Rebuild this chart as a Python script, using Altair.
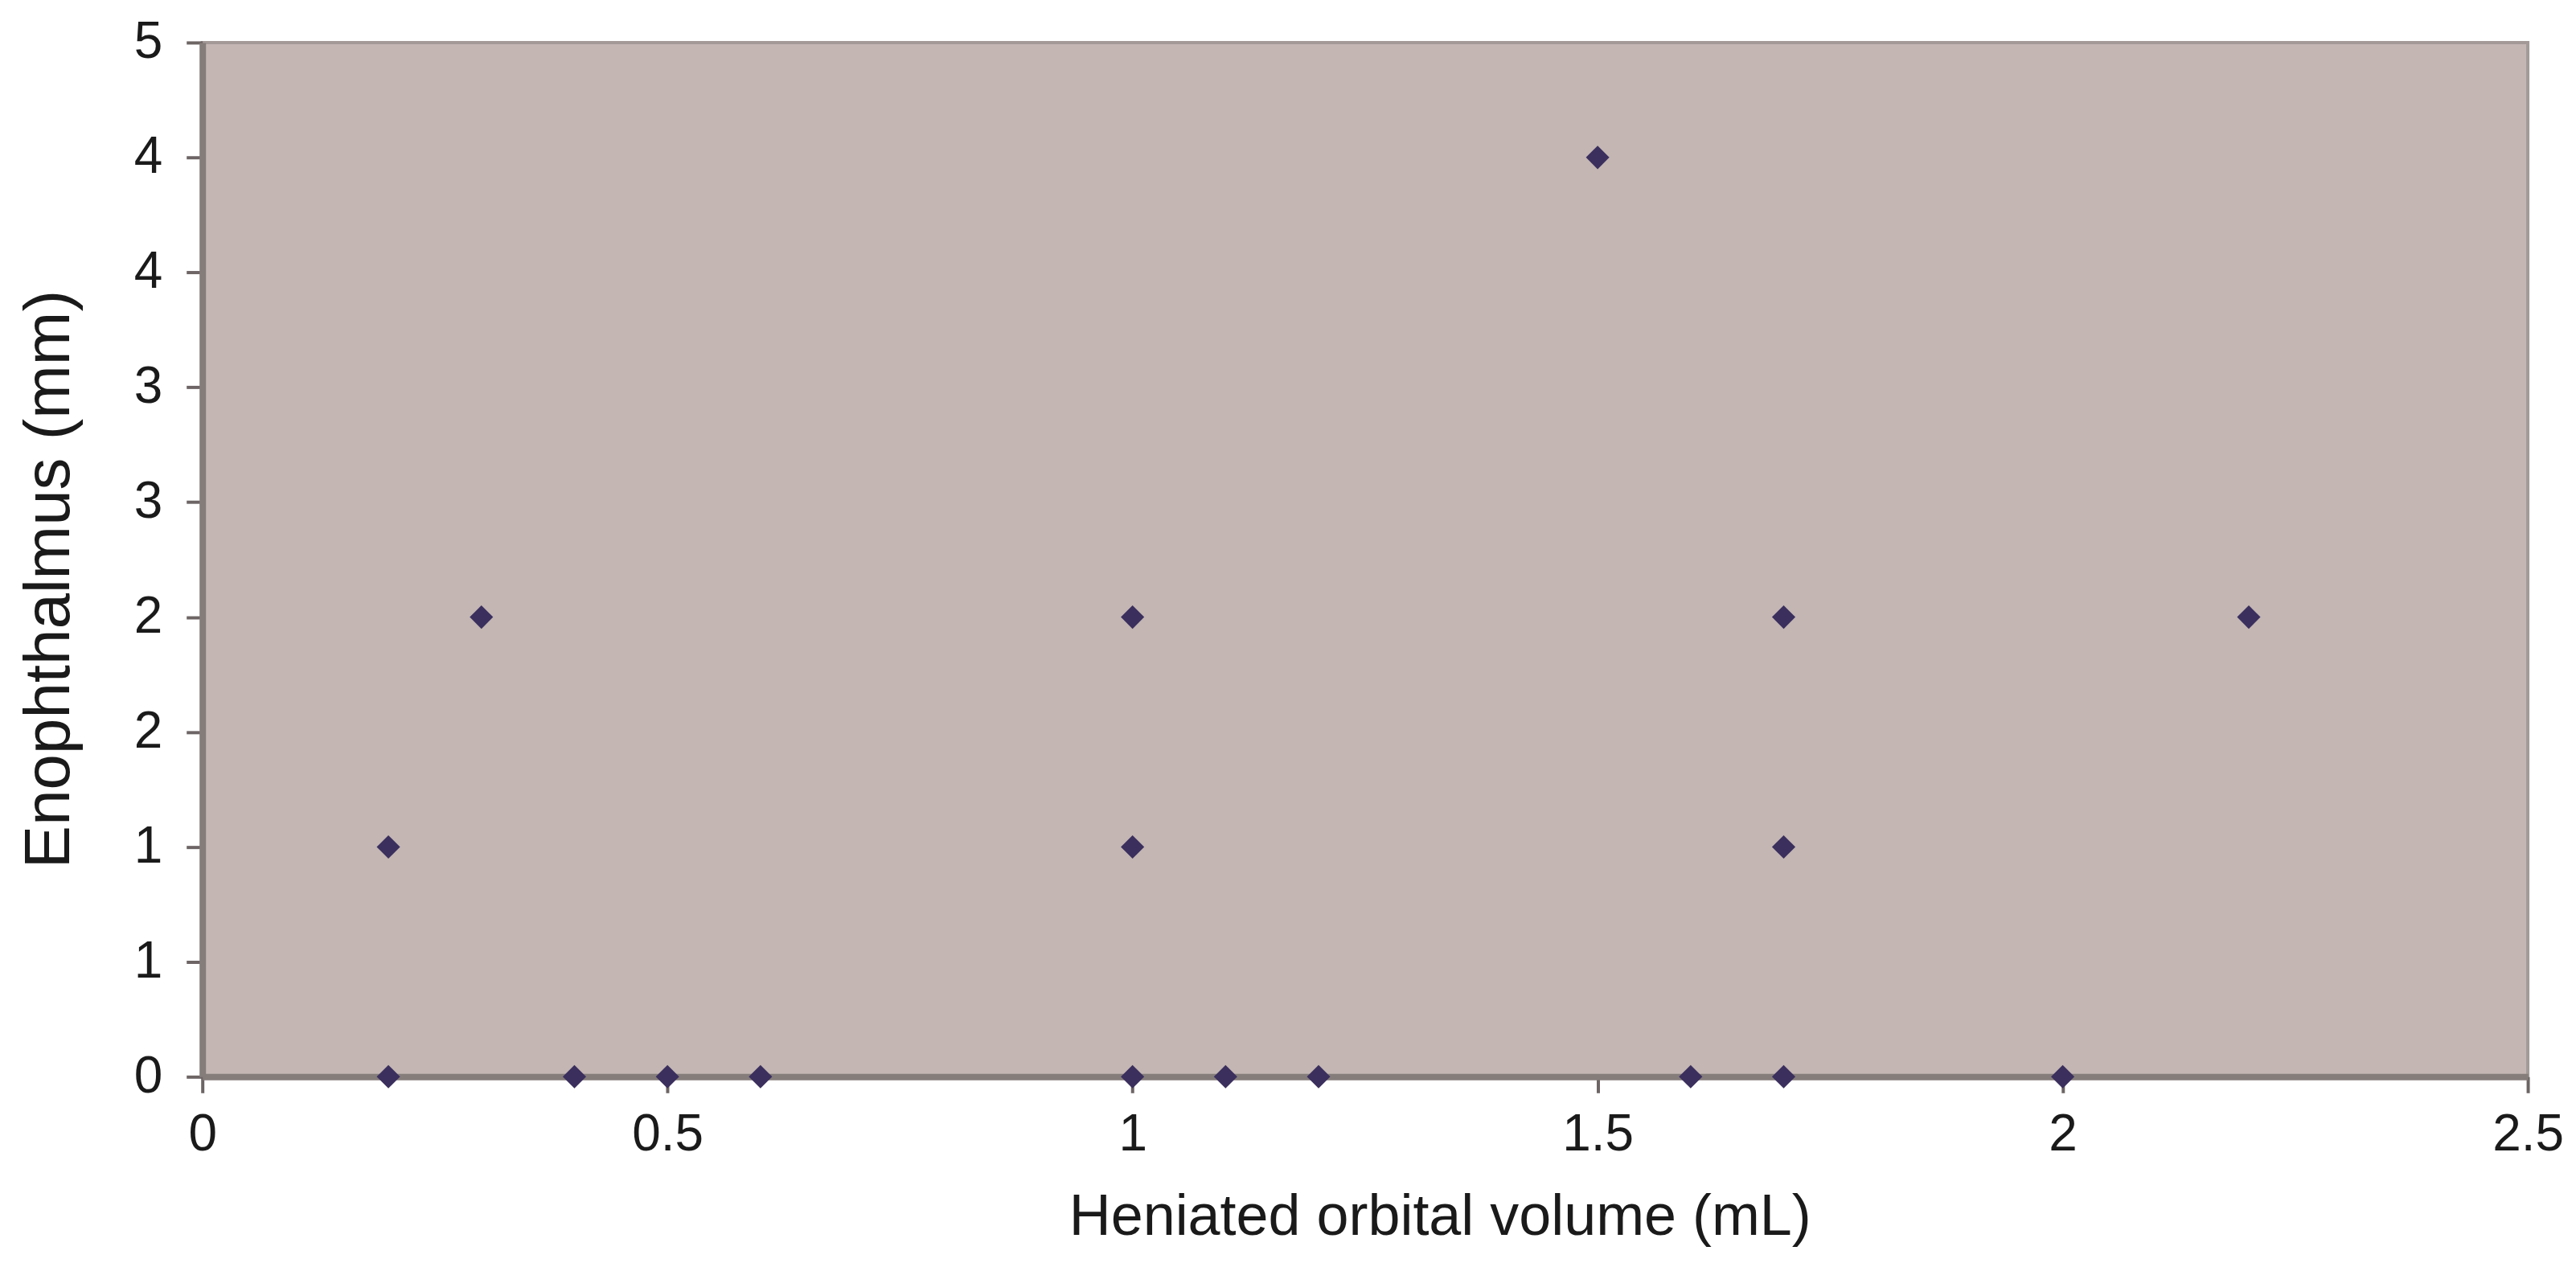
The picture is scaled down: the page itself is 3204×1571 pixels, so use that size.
import altair as alt
import pandas as pd

# Data
volume_ml = [0.2, 0.2, 0.3, 0.4, 0.5, 0.6, 1.0, 1.0, 1.0, 1.1, 1.2, 1.5, 1.6, 1.7, 1.7, 1.7, 2.0, 2.2]
enophthalmus_mm = [0, 1, 2, 0, 0, 0, 0, 1, 2, 0, 0, 4, 0, 0, 1, 2, 0, 2]

x_ticks = [0, 0.5, 1, 1.5, 2, 2.5]
x_tick_labels = ["0", "0.5", "1", "1.5", "2", "2.5"]
y_ticks = [0, 0.5, 1, 1.5, 2, 2.5, 3, 3.5, 4, 4.5]
y_tick_labels = ["0", "1", "1", "2", "2", "3", "3", "4", "4", "5"]

df = pd.DataFrame({"volume": volume_ml, "enoph": enophthalmus_mm})

def label_expr(labels, step):
    arr = "[" + ",".join("'" + s + "'" for s in labels) + "]"
    return f"{arr}[round(datum.value / {step})]"

FONT = "Liberation Sans, Arial"

chart = alt.Chart(df).mark_point(
    shape="diamond", filled=True, size=850, color="#3b2f5e", opacity=1
).encode(
    x=alt.X(
        "volume:Q",
        scale=alt.Scale(domain=[0, 2.5], nice=False, zero=True),
        axis=alt.Axis(
            values=x_ticks,
            labelExpr=label_expr(x_tick_labels, 0.5),
            title="Heniated orbital volume (mL)",
            grid=False,
            tickSize=20,
            tickWidth=4,
            tickColor="#6d6565",
            domainColor="#857d7a",
            domainWidth=8,
            labelFontSize=64,
            labelFont=FONT,
            labelColor="#1a1a1a",
            labelPadding=20,
            labelFlush=False,
            titleFont=FONT,
            titleFontSize=72,
            titleFontWeight="normal",
            titleColor="#1a1a1a",
            titleX=1541,
            titleY=196,
            titleAlign="center",
            titleBaseline="alphabetic",
        ),
    ),
    y=alt.Y(
        "enoph:Q",
        scale=alt.Scale(domain=[0, 4.5], nice=False, zero=True),
        axis=alt.Axis(
            values=y_ticks,
            labelExpr=label_expr(y_tick_labels, 0.5),
            title="Enophthalmus (mm)",
            grid=False,
            tickSize=20,
            tickWidth=4,
            tickColor="#6d6565",
            domainColor="#857d7a",
            domainWidth=8,
            labelFontSize=64,
            labelFont=FONT,
            labelColor="#1a1a1a",
            labelPadding=30,
            labelFlush=False,
            titleFont=FONT,
            titleFontSize=80,
            titleFontWeight="normal",
            titleColor="#1a1a1a",
            titleX=-190,
            titleY=668,
            titleAlign="center",
            titleBaseline="middle",
        ),
    ),
).properties(
    width=2896,
    height=1288,
    padding={"left": 244, "top": 44, "right": 52, "bottom": 220},
    autosize=alt.AutoSizeParams(type="none"),
    background="white",
).configure_view(
    fill="#c3b6b3",
    stroke="#a39a98",
    strokeWidth=4,
)

chart.save("out.html", embed_options={"renderer": "svg", "actions": False})
